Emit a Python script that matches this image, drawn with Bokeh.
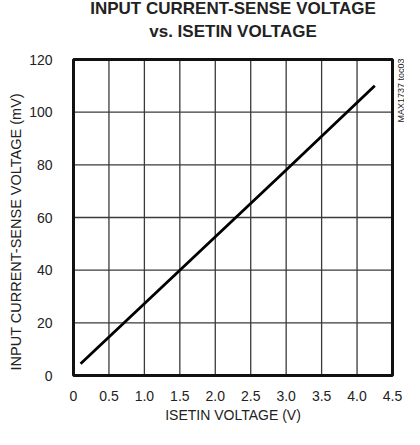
import math
from bokeh.plotting import figure
from bokeh.models import Range1d, FixedTicker, Label, Title
from bokeh.embed import file_html
from bokeh.resources import INLINE

# data
isetin_v = [0.1, 1.5, 3.0, 4.25]
sense_mv = [4.5, 40.0, 78.0, 110.0]
x_ticks = [0, 0.5, 1.0, 1.5, 2.0, 2.5, 3.0, 3.5, 4.0, 4.5]
x_tick_labels = ["0", "0.5", "1.0", "1.5", "2.0", "2.5", "3.0", "3.5", "4.0", "4.5"]
y_ticks = [0, 20, 40, 60, 80, 100, 120]
title_lines = ["INPUT CURRENT-SENSE VOLTAGE", "vs. ISETIN VOLTAGE"]
doc_code = "MAX1737 toc03"

FONT = "Liberation Sans"
INK = "#222222"

# geometry of the plotting box (px) and the free space kept inside the frame
BOX_W, BOX_H = 319, 316
PAD_X, PAD_TOP, PAD_BOT = 12, 59, 2
x0, x1 = x_ticks[0], x_ticks[-1]
y0, y1 = y_ticks[0], y_ticks[-1]
xs = (x1 - x0) / BOX_W
ys = (y1 - y0) / BOX_H

p = figure(frame_width=PAD_X + BOX_W + PAD_X, frame_height=PAD_TOP + BOX_H + PAD_BOT,
           output_backend="svg", toolbar_location=None,
           x_range=Range1d(x0 - PAD_X * xs, x1 + PAD_X * xs),
           y_range=Range1d(y0 - PAD_BOT * ys, y1 + PAD_TOP * ys),
           min_border_left=61, min_border_right=0, min_border_top=0, min_border_bottom=0)
p.outline_line_color = None
p.grid.visible = False

# grid lines limited to the box, at the tick positions
GRID = dict(line_color="#3a3a3a", line_width=1.3)
p.segment(x0=x_ticks, y0=[y0] * len(x_ticks), x1=x_ticks, y1=[y1] * len(x_ticks), **GRID)
p.segment(x0=[x0] * len(y_ticks), y0=y_ticks, x1=[x1] * len(y_ticks), y1=y_ticks, **GRID)

# box border
p.quad(left=[x0], right=[x1], bottom=[y0], top=[y1], fill_color=None,
       line_color="#111111", line_width=3)

p.line(isetin_v, sense_mv, line_color="black", line_width=2.8)

p.xaxis.ticker = FixedTicker(ticks=x_ticks)
p.xaxis.major_label_overrides = {t: l for t, l in zip(x_ticks, x_tick_labels)}
p.yaxis.ticker = FixedTicker(ticks=y_ticks)

for ax in (p.xaxis, p.yaxis):
    ax.axis_line_color = None
    ax.major_tick_line_color = None
    ax.minor_tick_line_color = None
    ax.major_label_text_font = FONT
    ax.major_label_text_font_size = "14px"
    ax.major_label_text_color = INK

p.xaxis.major_label_standoff = 7
p.yaxis.major_label_standoff = 3

p.add_layout(Title(text="ISETIN VOLTAGE (V)", align="center", standoff=2,
                   text_font=FONT, text_font_size="14px", text_font_style="normal",
                   text_color=INK), "below")

p.add_layout(Title(text="INPUT CURRENT-SENSE VOLTAGE (mV)", align="left", offset=7,
                   standoff=6, text_font=FONT, text_font_size="14.5px",
                   text_font_style="normal", text_color=INK), "left")

for txt, dy in zip(title_lines, [51, 28.5]):
    p.add_layout(Label(x=(x0 + x1) / 2, y=y1, y_offset=dy, text=txt,
                       text_font=FONT, text_font_size="17px", text_font_style="bold",
                       text_color=INK, text_align="center", text_baseline="middle"))

p.add_layout(Label(x=x1, y=y1, x_offset=8, y_offset=1, text=doc_code, angle=math.pi / 2,
                   text_font=FONT, text_font_size="9px", text_color=INK,
                   text_align="right", text_baseline="middle"))

open("out.html", "w").write(file_html(p, INLINE))
